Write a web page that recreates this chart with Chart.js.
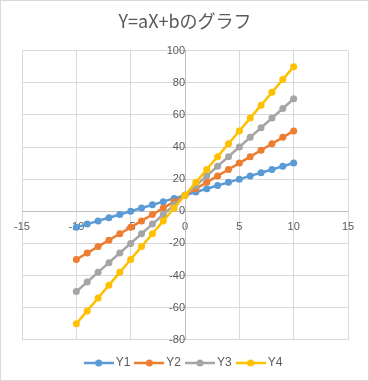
<!DOCTYPE html>
<html lang="ja">
<head>
<meta charset="utf-8"/>
<title>Y=aX+bのグラフ</title>
<script src="https://cdn.jsdelivr.net/npm/chart.js"></script>
<style>
  body { margin: 0; background: #fff; }
  #wrap { position: relative; width: 369px; height: 381px; }
</style>
</head>
<body>
<div id="wrap"><canvas id="chart" width="369" height="381"></canvas></div>
<script>
  // data
  const xs = [-10, -9, -8, -7, -6, -5, -4, -3, -2, -1, 0, 1, 2, 3, 4, 5, 6, 7, 8, 9, 10];
  const y1 = [-10, -8, -6, -4, -2, 0, 2, 4, 6, 8, 10, 12, 14, 16, 18, 20, 22, 24, 26, 28, 30];
  const y2 = [-30, -26, -22, -18, -14, -10, -6, -2, 2, 6, 10, 14, 18, 22, 26, 30, 34, 38, 42, 46, 50];
  const y3 = [-50, -44, -38, -32, -26, -20, -14, -8, -2, 4, 10, 16, 22, 28, 34, 40, 46, 52, 58, 64, 70];
  const y4 = [-70, -62, -54, -46, -38, -30, -22, -14, -6, 2, 10, 18, 26, 34, 42, 50, 58, 66, 74, 82, 90];
  const seriesNames = ['Y1', 'Y2', 'Y3', 'Y4'];
  const seriesColors = ['#5B9BD5', '#ED7D31', '#A5A5A5', '#FFC000'];
  const seriesValues = [y1, y2, y3, y4];

  const textColor = '#595959';
  const gridColor = '#d9d9d9';

  // legend marker: short line with a dot in the middle, like Excel
  function legendMarker(color) {
    const c = document.createElement('canvas');
    c.width = 30; c.height = 8;
    const g = c.getContext('2d');
    g.strokeStyle = color; g.lineWidth = 2.5;
    g.beginPath(); g.moveTo(0, 4); g.lineTo(30, 4); g.stroke();
    g.fillStyle = color;
    g.beginPath(); g.arc(15, 4, 3.5, 0, Math.PI * 2); g.fill();
    return c;
  }

  const datasets = seriesNames.map((name, i) => ({
    label: name,
    data: xs.map((x, j) => ({ x: x, y: seriesValues[i][j] })),
    borderColor: seriesColors[i],
    backgroundColor: seriesColors[i],
    borderWidth: 2.5,
    pointRadius: 3.5,
    pointHoverRadius: 3.5,
    pointBorderWidth: 0,
    showLine: true,
    order: seriesNames.length - i
  }));

  const frame = {
    id: 'frame',
    afterDraw(chart) {
      const ctx = chart.ctx;
      ctx.save();
      ctx.strokeStyle = '#d9d9d9';
      ctx.lineWidth = 1;
      ctx.strokeRect(0.5, 0.5, chart.width - 1, chart.height - 1);
      ctx.restore();
    }
  };

  new Chart(document.getElementById('chart'), {
    type: 'scatter',
    data: { datasets: datasets },
    plugins: [frame],
    options: {
      responsive: false,
      animation: false,
      layout: { padding: { left: 22, right: 21, top: 0, bottom: 2 } },
      plugins: {
        title: {
          display: true,
          text: 'Y=aX+bのグラフ',
          color: textColor,
          font: { family: '"Noto Sans CJK JP", "Noto Sans", sans-serif', size: 18, weight: 'normal' },
          padding: { top: 10, bottom: 19 }
        },
        legend: {
          position: 'bottom',
          // empty title only used as a spacer above the legend row
          title: { display: true, text: ' ', font: { size: 1 }, padding: { top: 4, bottom: 4 } },
          labels: {
            usePointStyle: true,
            pointStyleWidth: 22,
            color: textColor,
            font: { family: '"Liberation Sans", sans-serif', size: 12 },
            padding: 8,
            sort: (a, b) => a.datasetIndex - b.datasetIndex,
            generateLabels: (chart) => chart.data.datasets.map((ds, i) => ({
              text: ds.label,
              datasetIndex: i,
              pointStyle: legendMarker(seriesColors[i]),
              fillStyle: seriesColors[i],
              strokeStyle: seriesColors[i],
              lineWidth: 0,
              fontColor: textColor,
              hidden: false
            }))
          }
        },
        tooltip: { enabled: false }
      },
      scales: {
        x: {
          type: 'linear',
          position: { y: 0 },
          min: -15,
          max: 15,
          ticks: {
            stepSize: 5,
            color: textColor,
            padding: 9,
            font: { family: '"Liberation Sans", sans-serif', size: 11 }
          },
          grid: { color: gridColor, drawTicks: false },
          border: { color: '#bfbfbf', width: 1 }
        },
        y: {
          type: 'linear',
          position: { x: 0 },
          min: -80,
          max: 100,
          ticks: {
            stepSize: 20,
            color: textColor,
            padding: 10,
            font: { family: '"Liberation Sans", sans-serif', size: 11 }
          },
          grid: { color: gridColor, drawTicks: false },
          border: { color: '#bfbfbf', width: 1 }
        }
      }
    }
  });
</script>
</body>
</html>
